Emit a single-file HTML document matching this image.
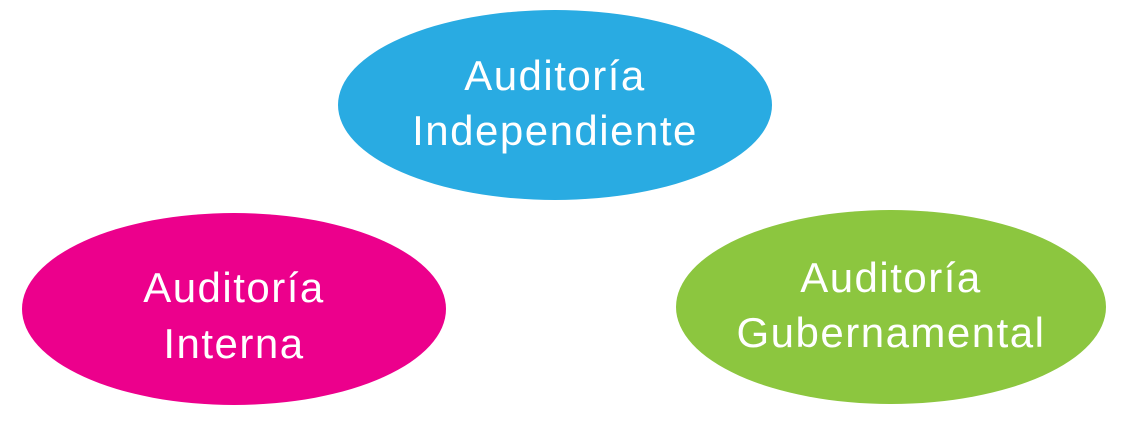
<!DOCTYPE html>
<html><head><meta charset="utf-8"><style>
html,body{margin:0;padding:0;background:#fff;width:1140px;height:445px;overflow:hidden}
</style></head><body>
<svg width="1140" height="445" xmlns="http://www.w3.org/2000/svg" font-family="Liberation Sans, sans-serif" font-size="42" letter-spacing="1.5" fill="#fff" text-anchor="middle">
<ellipse cx="555" cy="105" rx="217" ry="95" fill="#29abe2"/>
<ellipse cx="234" cy="309" rx="212" ry="96" fill="#ec008c"/>
<ellipse cx="891" cy="307" rx="215" ry="97" fill="#8cc63f"/>
<text x="555" y="90">Auditoría</text>
<text x="555" y="145">Independiente</text>
<text x="234" y="302">Auditoría</text>
<text x="234" y="358">Interna</text>
<text x="891" y="292">Auditoría</text>
<text x="891" y="347">Gubernamental</text>
</svg>
</body></html>
